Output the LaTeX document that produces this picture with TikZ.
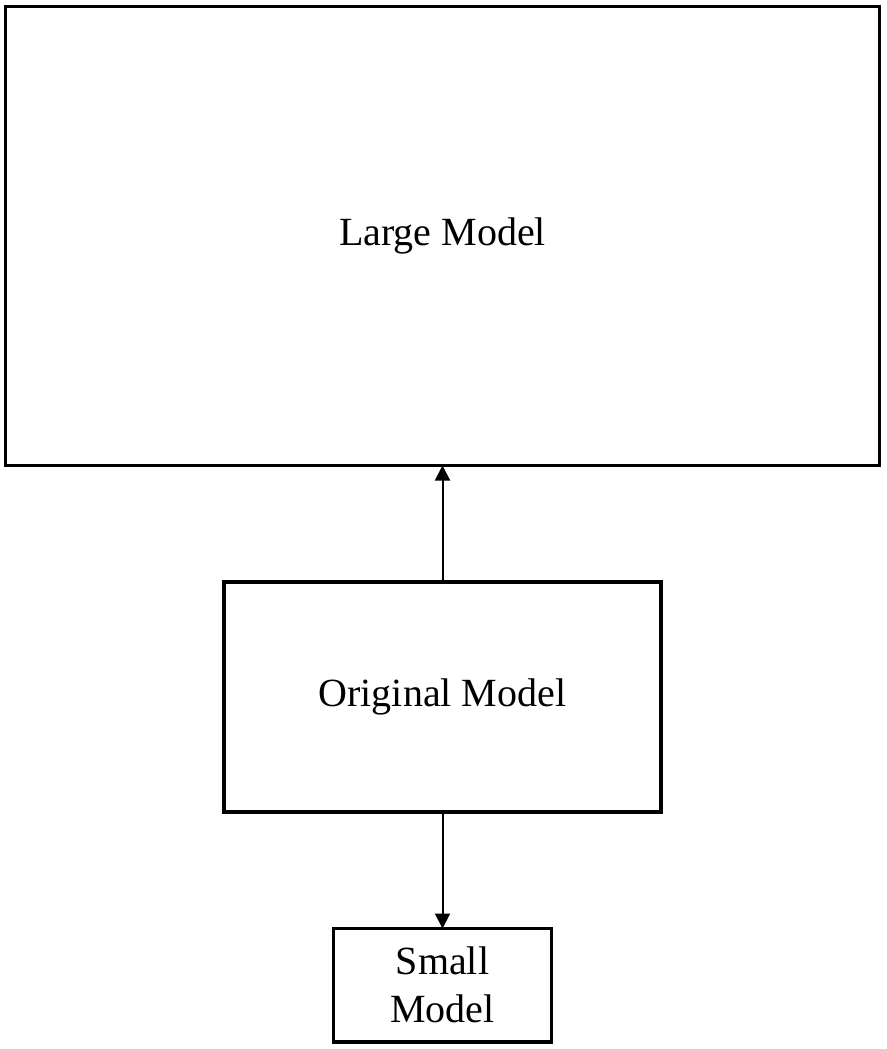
\documentclass[tikz,border=0pt]{standalone}
\usepackage{fontspec}
\setmainfont{Liberation Serif}
\usetikzlibrary{arrows.meta, positioning}

\begin{document}
\begin{tikzpicture}[
  x=1pt, y=1pt,
  every node/.style={font=\fontsize{40}{48}\selectfont},
  box/.style={rectangle, draw=black, line width=3.5pt, fill=white,
              inner sep=0pt, outer sep=0pt, align=center},
  arr/.style={-{Triangle[length=15pt, width=15pt]}, line width=2pt},
]
  \useasboundingbox (0,0) rectangle (886,-1049);

  \node[box, minimum width=874pt, minimum height=459pt] (large) at (442.5,-236) {Large Model};
  \node[box, minimum width=437pt, minimum height=230pt, below=116.5pt of large] (orig) {Original Model};
  \node[box, minimum width=218pt, minimum height=113.5pt, below=116.5pt of orig] (small) {Small\\Model};

  % Arrows
  \draw[arr] (orig.north) -- (large.south);
  \draw[arr] (orig.south) -- (small.north);
\end{tikzpicture}
\end{document}
